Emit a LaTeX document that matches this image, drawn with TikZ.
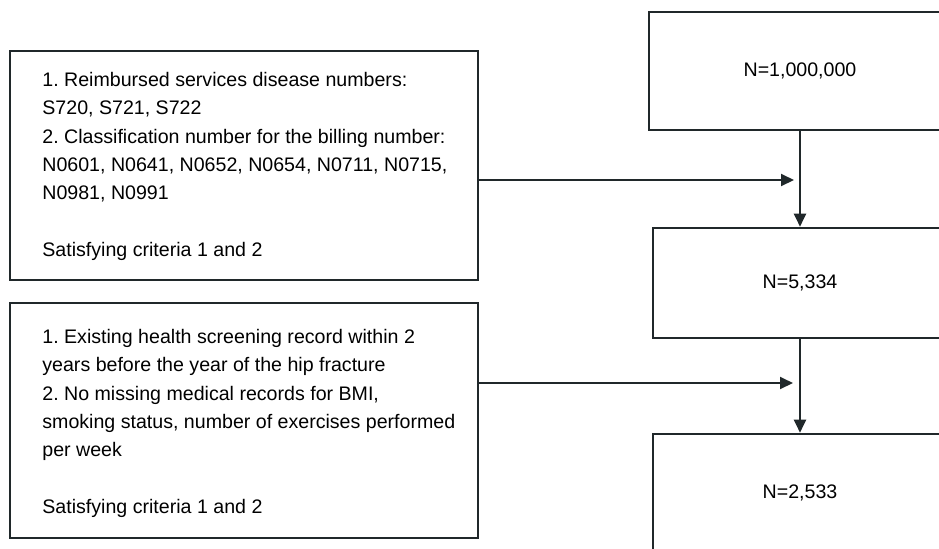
\documentclass[tikz,border=0pt]{standalone}
\usepackage{fontspec}
\setmainfont{Liberation Sans}
\usetikzlibrary{arrows.meta}
\definecolor{linec}{RGB}{32,40,42}
\frenchspacing
\tikzset{
    box/.style={draw=linec, line width=1.3pt, inner sep=0pt},
    crit/.style={anchor=north west, align=left, inner sep=0pt,
        font=\fontsize{9.8pt}{14.15pt}\selectfont},
    count/.style={font=\fontsize{9.8pt}{12pt}\selectfont},
    arr/.style={draw=linec, line width=1pt, -{Triangle[length=6.5pt,width=6pt]}}
}

\begin{document}
\begin{tikzpicture}[x=0.5pt,y=-0.5pt]
    \clip (0,0) rectangle (939,548);
    \fill[white] (0,0) rectangle (939,548);

    % Draw the count boxes on the right (cut off by the page edge)
    \node[box, count, minimum width=151pt, minimum height=59pt] (n1) at (800,71) {N=1,000,000};
    \node[box, count, minimum width=147pt, minimum height=55pt] (n2) at (800,283) {N=5,334};
    \node[box, count, minimum width=147pt, minimum height=59pt] (n3) at (800,493) {N=2,533};

    % Draw the criteria boxes on the left
    \node[box, minimum width=234pt, minimum height=114.5pt] (critA) at (244,165.5) {};
    \node[box, minimum width=234pt, minimum height=117.5pt] (critB) at (244,420.5) {};
    \node[crit] (textA) at (42,72) {1. Reimbursed services disease numbers:\\
        S720, S721, S722\\
        2. Classification number for the billing number:\\
        N0601, N0641, N0652, N0654, N0711, N0715,\\
        N0981, N0991\\[14.15pt]
        Satisfying criteria 1 and 2};
    \node[crit] (textB) at (42,329) {1. Existing health screening record within 2\\
        years before the year of the hip fracture\\
        2. No missing medical records for BMI,\\
        smoking status, number of exercises performed\\
        per week\\[14.15pt]
        Satisfying criteria 1 and 2};

    % Draw the flow arrows
    \draw[arr] (n1) -- (n2);
    \draw[arr] (n2) -- (n3);
    \coordinate (j1) at (794,180);
    \coordinate (j2) at (793,383);
    \draw[arr] (critA.east |- j1) -- (j1);
    \draw[arr] (critB.east |- j2) -- (j2);
\end{tikzpicture}
\end{document}
